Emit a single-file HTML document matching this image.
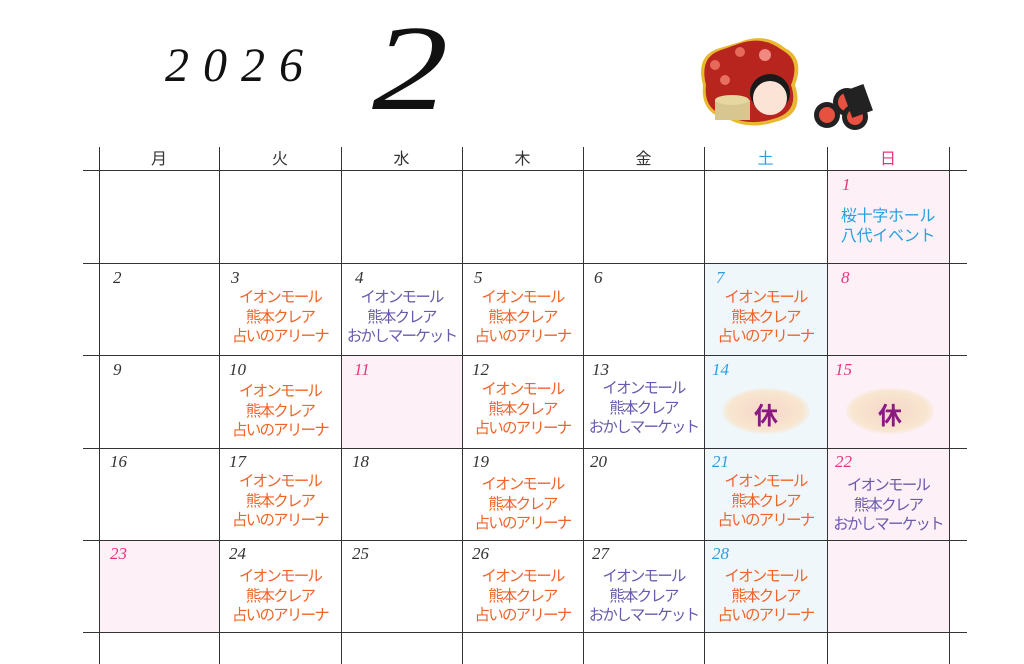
<!DOCTYPE html>
<html><head><meta charset="utf-8"><style>
body{margin:0;width:1024px;height:664px;background:#fff;position:relative;overflow:hidden;font-family:"Liberation Sans","Noto Sans CJK JP",sans-serif}
.a{position:absolute}
.h{position:absolute;height:1px;background:#333;left:83px;width:884px}
.v{position:absolute;width:1px;background:#333;top:147px;height:517px}
.hd{position:absolute;top:145px;font-size:16px;text-align:center;color:#333}
.n{position:absolute;font-family:"Liberation Serif",serif;font-style:italic;font-size:17px;color:#333}
.e{position:absolute;font-size:15.5px;line-height:19.5px;text-align:center;letter-spacing:-1.8px;white-space:nowrap}
.o{color:#f0642a}.p{color:#6a5aad}.b{color:#2aa0e0}.k{color:#e8347e}
.bg{position:absolute}
</style></head><body>
<div class="a" style="left:165px;top:38px;font-family:'Liberation Serif',serif;font-style:italic;font-size:48px;letter-spacing:14px;color:#111">2026</div>
<div class="a" style="left:372px;top:4px;font-family:'Liberation Serif',serif;font-style:italic;font-size:122px;color:#111;line-height:130px;transform:scaleX(1.25);transform-origin:left">2</div>
<svg class="a" style="left:695px;top:30px" width="200" height="100">
<path d="M45 12 Q70 2 90 18 Q110 28 100 55 Q110 85 80 92 Q55 100 35 90 Q5 85 8 55 Q0 25 25 18 Z" fill="#e8b830"/>
<path d="M43 14 Q68 5 87 20 Q106 30 96 55 Q105 82 78 89 Q55 96 35 87 Q8 82 11 55 Q4 27 26 20 Z" fill="#b8241e"/>
<circle cx="20" cy="35" r="5" fill="#e56a5a"/><circle cx="45" cy="22" r="5" fill="#e56a5a"/><circle cx="70" cy="25" r="6" fill="#f08a80"/><circle cx="30" cy="50" r="5" fill="#e87060"/>
<ellipse cx="75" cy="63" rx="20" ry="19" fill="#1a1a1a"/><ellipse cx="75" cy="68" rx="17" ry="17" fill="#fbe3d6"/>
<rect x="20" y="70" width="35" height="20" fill="#d8c690"/><ellipse cx="37" cy="70" rx="17" ry="5" fill="#e6d6a0"/>
<circle cx="152" cy="72" r="14" fill="#222"/><circle cx="152" cy="72" r="9" fill="#e85040"/>
<circle cx="132" cy="85" r="13" fill="#222"/><circle cx="132" cy="85" r="8" fill="#e85040"/>
<circle cx="160" cy="87" r="13" fill="#222"/><circle cx="160" cy="87" r="8" fill="#e85040"/>
<rect x="152" y="58" width="22" height="28" fill="#222" transform="rotate(-20 160 72)"/>
</svg>
<div class="bg" style="left:827px;top:170px;width:122px;height:185px;background:#fdf0f6"></div>
<div class="bg" style="left:704px;top:263px;width:123px;height:92px;background:#eff7fb"></div>
<div class="bg" style="left:341px;top:355px;width:121px;height:93px;background:#fdf0f6"></div>
<div class="bg" style="left:704px;top:355px;width:123px;height:93px;background:#eff7fb"></div>
<div class="bg" style="left:827px;top:355px;width:122px;height:93px;background:#fdf0f6"></div>
<div class="bg" style="left:704px;top:448px;width:123px;height:92px;background:#eff7fb"></div>
<div class="bg" style="left:827px;top:448px;width:122px;height:92px;background:#fdf0f6"></div>
<div class="bg" style="left:99px;top:540px;width:120px;height:92px;background:#fdf0f6"></div>
<div class="bg" style="left:704px;top:540px;width:123px;height:92px;background:#eff7fb"></div>
<div class="bg" style="left:827px;top:540px;width:122px;height:92px;background:#fdf0f6"></div>
<div class="h" style="top:170px"></div><div class="h" style="top:263px"></div><div class="h" style="top:355px"></div><div class="h" style="top:448px"></div><div class="h" style="top:540px"></div><div class="h" style="top:632px"></div>
<div class="v" style="left:99px"></div><div class="v" style="left:219px"></div><div class="v" style="left:341px"></div><div class="v" style="left:462px"></div><div class="v" style="left:583px"></div><div class="v" style="left:704px"></div><div class="v" style="left:827px"></div><div class="v" style="left:949px"></div>
<div class="hd" style="left:99px;width:120px">月</div><div class="hd" style="left:219px;width:122px">火</div><div class="hd" style="left:341px;width:121px">水</div><div class="hd" style="left:462px;width:121px">木</div><div class="hd" style="left:583px;width:121px">金</div><div class="hd b" style="left:704px;width:123px">土</div><div class="hd k" style="left:827px;width:122px">日</div>
<div class="n k" style="left:842px;top:175px">1</div>
<div class="e b" style="left:827px;width:122px;top:207px;letter-spacing:-0.3px;font-size:16px">桜十字ホール<br>八代イベント</div>
<div class="n" style="left:113px;top:268px">2</div>
<div class="n" style="left:231px;top:268px">3</div><div class="e o" style="left:219px;width:122px;top:288px">イオンモール<br>熊本クレア<br>占いのアリーナ</div>
<div class="n" style="left:355px;top:268px">4</div><div class="e p" style="left:341px;width:121px;top:288px">イオンモール<br>熊本クレア<br>おかしマーケット</div>
<div class="n" style="left:474px;top:268px">5</div><div class="e o" style="left:462px;width:121px;top:288px">イオンモール<br>熊本クレア<br>占いのアリーナ</div>
<div class="n" style="left:594px;top:268px">6</div>
<div class="n b" style="left:716px;top:268px">7</div><div class="e o" style="left:704px;width:123px;top:288px">イオンモール<br>熊本クレア<br>占いのアリーナ</div>
<div class="n k" style="left:841px;top:268px">8</div>
<div class="n" style="left:113px;top:360px">9</div>
<div class="n" style="left:229px;top:360px">10</div><div class="e o" style="left:219px;width:122px;top:382px">イオンモール<br>熊本クレア<br>占いのアリーナ</div>
<div class="n k" style="left:354px;top:360px">11</div>
<div class="n" style="left:472px;top:360px">12</div><div class="e o" style="left:462px;width:121px;top:380px">イオンモール<br>熊本クレア<br>占いのアリーナ</div>
<div class="n" style="left:592px;top:360px">13</div><div class="e p" style="left:583px;width:121px;top:379px">イオンモール<br>熊本クレア<br>おかしマーケット</div>
<div class="n b" style="left:712px;top:360px">14</div>
<div class="a" style="left:722px;top:388px;width:88px;height:46px;border-radius:50%;background:radial-gradient(#f6d6c8,#f8e6d0 60%,rgba(250,235,210,0) 75%)"></div>
<div class="a" style="left:722px;top:396px;width:88px;text-align:center;font-size:24px;font-weight:bold;color:#8a1a80">休</div>
<div class="n k" style="left:835px;top:360px">15</div>
<div class="a" style="left:846px;top:388px;width:88px;height:46px;border-radius:50%;background:radial-gradient(#f6d6c8,#f8e6d0 60%,rgba(250,235,210,0) 75%)"></div>
<div class="a" style="left:846px;top:396px;width:88px;text-align:center;font-size:24px;font-weight:bold;color:#8a1a80">休</div>
<div class="n" style="left:110px;top:452px">16</div>
<div class="n" style="left:229px;top:452px">17</div><div class="e o" style="left:219px;width:122px;top:472px">イオンモール<br>熊本クレア<br>占いのアリーナ</div>
<div class="n" style="left:352px;top:452px">18</div>
<div class="n" style="left:472px;top:452px">19</div><div class="e o" style="left:462px;width:121px;top:475px">イオンモール<br>熊本クレア<br>占いのアリーナ</div>
<div class="n" style="left:590px;top:452px">20</div>
<div class="n b" style="left:712px;top:452px">21</div><div class="e o" style="left:704px;width:123px;top:472px">イオンモール<br>熊本クレア<br>占いのアリーナ</div>
<div class="n k" style="left:835px;top:452px">22</div><div class="e p" style="left:827px;width:122px;top:476px">イオンモール<br>熊本クレア<br>おかしマーケット</div>
<div class="n k" style="left:110px;top:544px">23</div>
<div class="n" style="left:229px;top:544px">24</div><div class="e o" style="left:219px;width:122px;top:567px">イオンモール<br>熊本クレア<br>占いのアリーナ</div>
<div class="n" style="left:352px;top:544px">25</div>
<div class="n" style="left:472px;top:544px">26</div><div class="e o" style="left:462px;width:121px;top:567px">イオンモール<br>熊本クレア<br>占いのアリーナ</div>
<div class="n" style="left:592px;top:544px">27</div><div class="e p" style="left:583px;width:121px;top:567px">イオンモール<br>熊本クレア<br>おかしマーケット</div>
<div class="n b" style="left:712px;top:544px">28</div><div class="e o" style="left:704px;width:123px;top:567px">イオンモール<br>熊本クレア<br>占いのアリーナ</div>
</body></html>
